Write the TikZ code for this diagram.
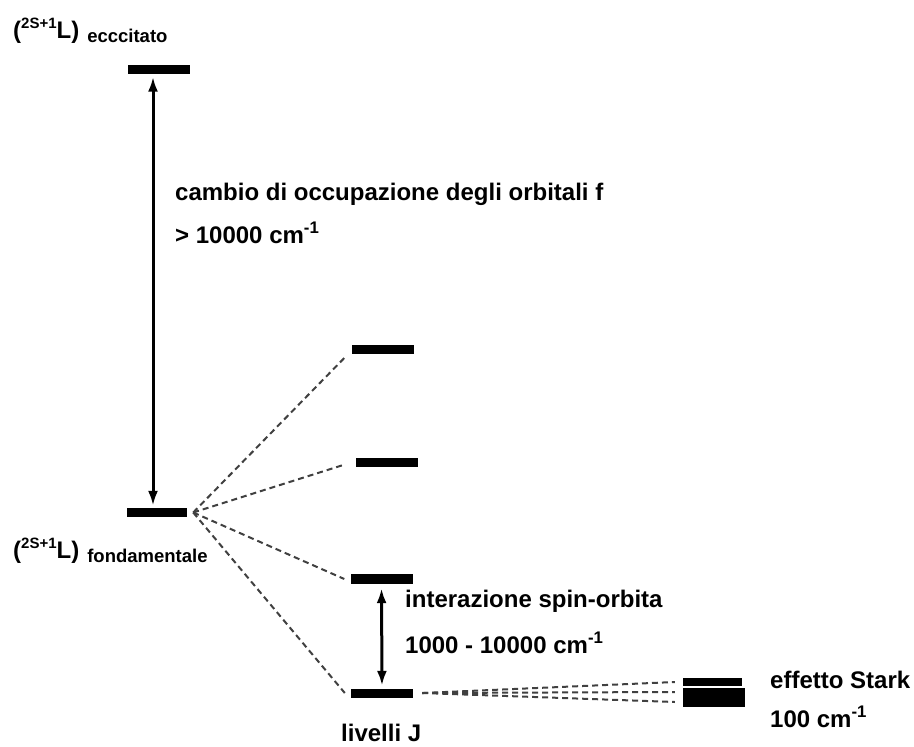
\documentclass[tikz,border=0pt]{standalone}
\usepackage{fontspec}
\setmainfont{Liberation Sans}
\usetikzlibrary{arrows.meta}
\newcommand{\termsym}[1]{(\raisebox{10pt}{\fontsize{15}{15}\selectfont 2S+1}L)\hspace{8pt}\raisebox{-4pt}{\fontsize{18.5}{18.5}\selectfont #1}}
\newcommand{\wn}{cm\textsuperscript{-1}}

\begin{document}
\begin{tikzpicture}[
  x=1pt, y=-1pt,
  energy/.style={fill, inner sep=0pt, minimum width=62pt, minimum height=9pt},
  txt/.style={font=\fontsize{24}{28}\selectfont\bfseries, anchor=base west, inner sep=0pt},
  gap/.style={{Latex[length=15pt,width=10pt]}-{Latex[length=15pt,width=10pt]}, line width=3pt},
  split/.style={dash pattern=on 6pt off 4pt, line width=2pt, black!75},
]
  \useasboundingbox (0,0) rectangle (914,747);
  % termini
  \node[energy] (exc) at (159,69) {};
  \node[energy, minimum width=60pt] (gnd) at (157,512.5) {};
  \node[txt] (excl) at (13,38) {\termsym{ecccitato}};
  \node[txt] (gndl) at (13,558) {\termsym{fondamentale}};
  \draw[gap, shorten <=3pt, shorten >=2pt] ([xshift=-6pt]exc.south) -- ([xshift=-4pt]gnd.north);
  \node[txt] (orb) at (175,200) {cambio di occupazione degli orbitali f};
  \node[txt] (orbv) at (175,243) {> 10000 \wn};

  % livelli J
  \node[energy] (jA) at (383,349.5) {};
  \node[energy] (jB) at (387,462.5) {};
  \node[energy, minimum height=10pt] (jC) at (381.5,579) {};
  \node[energy] (jD) at (382,693) {};
  \coordinate (fork) at ([xshift=6pt]gnd.east);
  \draw[split] (fork) -- ([shift={(-7pt,-8pt)}]jA.west);
  \draw[split] (fork) -- ([shift={(-11pt,-2pt)}]jB.west);
  \draw[split] (fork) -- ([xshift=-6pt]jC.west);
  \draw[split] (fork) -- ([xshift=-6pt]jD.west);
  \draw[gap, shorten <=4pt, shorten >=2.5pt] (jC.south) -- (jD.north);
  \node[txt] (so) at (405,607) {interazione spin-orbita};
  \node[txt] (sov) at (405,653) {1000 - 10000 \wn};
  \node[txt] (jlab) at (341,741) {livelli J};

  % Stark
  \node[energy, minimum width=59pt, minimum height=8pt] (stA) at (712.5,682) {};
  \node[energy, minimum height=19pt] (stB) at (714,697.5) {};
  \coordinate (stark) at ([xshift=9pt]jD.east);
  \draw[split] (stark) -- ([xshift=-8pt]stA.west);
  \draw[split] (stark) -- ([shift={(-8pt,5.5pt)}]stB.west);
  \draw[split] (stark) -- ([shift={(-8pt,-4.5pt)}]stB.west);
  \node[txt] (st) at (770,688) {effetto Stark};
  \node[txt] (stv) at (770,727) {100 \wn};
\end{tikzpicture}
\end{document}
